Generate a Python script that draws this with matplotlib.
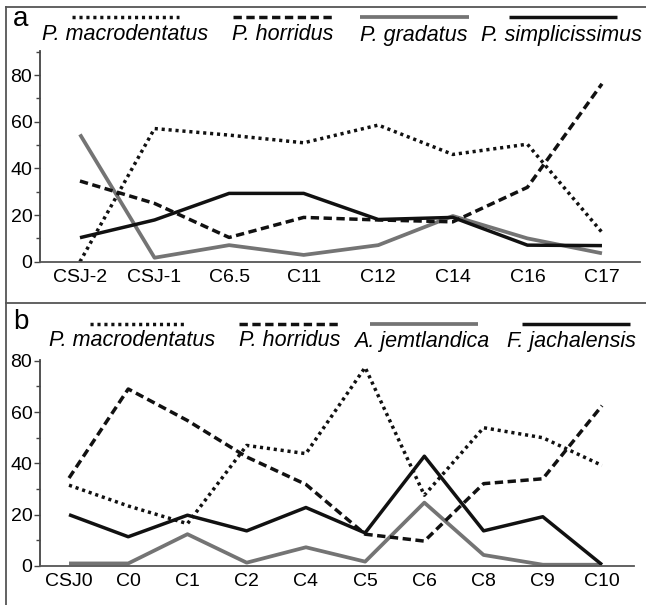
import matplotlib.pyplot as plt
from matplotlib.lines import Line2D
from matplotlib.ticker import MultipleLocator

plt.rcParams['font.family'] = ['Liberation Sans', 'DejaVu Sans']

# panel a: relative abundance per sample
samples_a = ['CSJ-2', 'CSJ-1', 'C6.5', 'C11', 'C12', 'C14', 'C16', 'C17']
macro_a = [0, 57.1, 54.3, 51, 58.6, 46, 50.4, 12.6]
horridus_a = [34.6, 25, 10.4, 19, 17.9, 17.1, 31.9, 76.3]
gradatus_a = [54.6, 1.7, 7.1, 2.9, 7.1, 19.6, 10, 3.6]
simplic_a = [10.3, 17.9, 29.3, 29.3, 18.1, 19, 7.1, 6.9]
names_a = ['P. macrodentatus', 'P. horridus', 'P. gradatus', 'P. simplicissimus']

# panel b
samples_b = ['CSJ0', 'C0', 'C1', 'C2', 'C4', 'C5', 'C6', 'C8', 'C9', 'C10']
macro_b = [31.5, 23.4, 16.5, 47, 43.8, 77.4, 27.6, 53.9, 50, 39.2]
horridus_b = [34.3, 69, 56.7, 42.5, 31.8, 12.4, 9.7, 32.1, 34, 62.5]
jemt_b = [1, 1, 12.4, 1.3, 7.3, 1.7, 24.7, 4.3, 0.5, 0.5]
jach_b = [20, 11.4, 19.8, 13.7, 22.8, 12.9, 42.8, 13.7, 19.2, 0.5]
names_b = ['P. macrodentatus', 'P. horridus', 'A. jemtlandica', 'F. jachalensis']

LW = 2.5
GRAY = '#747474'
AXC = '#444444'
styles = [
    dict(color='#111111', lw=LW, ls=(0, (0.9, 1.1))),
    dict(color='#111111', lw=LW, ls=(0, (2.4, 1.3))),
    dict(color=GRAY, lw=LW + 0.2, ls='-'),
    dict(color='#111111', lw=LW, ls='-'),
]

W, H = 646, 605
fig = plt.figure(figsize=(W / 100, H / 100), dpi=100)


def fx(px):
    return px / W


def fy(py):
    return 1 - py / H


# outer frame and divider
for xs, ys in [((6, 646), (7, 7)), ((6, 6), (7, 605)), ((6, 646), (303, 303))]:
    fig.add_artist(Line2D([fx(x) for x in xs], [fy(y) for y in ys],
                          color='#555555', lw=1.3))


def panel(rect, samples, series, names, xlim, ylim, label, lab_y,
          leg_line_y, leg_text_y, line_x, text_x):
    ax = fig.add_axes(rect)
    x = list(range(len(samples)))
    # gray first so the black lines sit on top
    for i in [2, 3, 1, 0]:
        ax.plot(x, series[i], solid_capstyle='butt', dash_capstyle='butt',
                **styles[i])
    ax.set_xlim(*xlim)
    ax.set_ylim(*ylim)
    ax.set_xticks(x)
    ax.set_xticklabels(samples)
    ax.yaxis.set_major_locator(MultipleLocator(20))
    ax.yaxis.set_minor_locator(MultipleLocator(10))
    ax.tick_params(axis='x', length=0, pad=5, labelsize=14)
    ax.tick_params(axis='y', which='major', length=4, width=1, color=AXC,
                   pad=1.5, labelsize=14)
    ax.tick_params(axis='y', which='minor', length=3, width=1, color=AXC)
    for s in ['top', 'right']:
        ax.spines[s].set_visible(False)
    ax.spines['left'].set_color(AXC)
    ax.spines['bottom'].set_color('#555555')
    ax.spines['left'].set_linewidth(1.3)
    ax.spines['bottom'].set_linewidth(1.3)
    fig.text(fx(13), fy(lab_y), label, fontsize=20, ha='left', va='center')
    # legend: sample line centred above each name
    for i, nm in enumerate(names):
        x0, x1 = line_x[i]
        fig.add_artist(Line2D([fx(x0), fx(x1)], [fy(leg_line_y)] * 2,
                              solid_capstyle='butt', dash_capstyle='butt',
                              **styles[i]))
        fig.text(fx(text_x[i]), fy(leg_text_y), nm, fontsize=15.5,
                 style='italic', ha='center', va='center')
    return ax


panel([fx(40), fy(261.7), fx(600), (261.7 - 50.7) / H],
      samples_a, [macro_a, horridus_a, gradatus_a, simplic_a], names_a,
      (-0.536, 7.51), (0, 90.5), 'a', 19, 17, 35,
      [(72, 179), (233, 332), (360, 469), (509, 617)],
      [125, 283, 413.5, 561])

panel([fx(40), fy(566), fx(594), (566 - 360) / H],
      samples_b, [macro_b, horridus_b, jemt_b, jach_b], names_b,
      (-0.49, 9.54), (0, 80.3), 'b', 322, 324, 341,
      [(90, 187), (239, 340), (370, 478), (522, 630)],
      [132, 290, 422, 571])

fig.savefig('out.png', dpi=100)
